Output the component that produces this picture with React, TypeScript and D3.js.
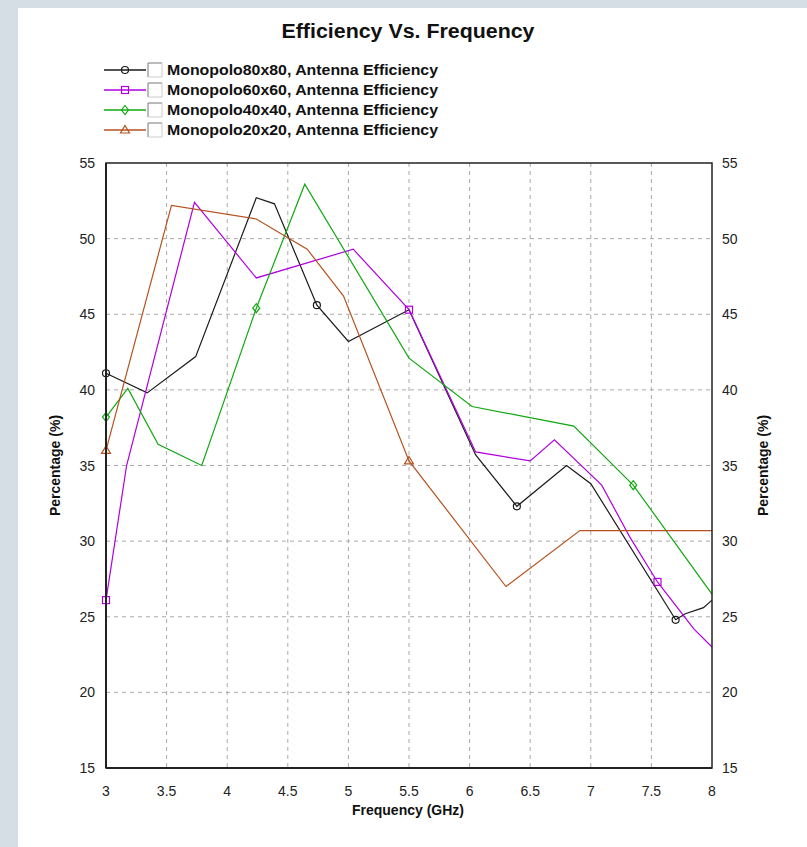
import { scaleLinear, line as d3line } from "d3";

// Frequency (GHz) / efficiency (%)
const FREQ_80 = [3.0, 3.34, 3.74, 4.24, 4.39, 4.74, 5.0, 5.5, 6.05, 6.39, 6.8, 7.0, 7.7, 7.78, 7.93, 8.0];
const EFF_80 = [41.1, 39.8, 42.2, 52.7, 52.3, 45.6, 43.2, 45.3, 35.7, 32.3, 35.0, 33.8, 24.8, 25.2, 25.6, 26.1];
const MARK_80 = [0, 5, 9, 12];

const FREQ_60 = [3.0, 3.17, 3.73, 4.24, 5.04, 5.5, 6.05, 6.5, 6.7, 7.09, 7.32, 7.55, 7.85, 8.0];
const EFF_60 = [26.1, 35.0, 52.4, 47.4, 49.3, 45.3, 35.9, 35.3, 36.7, 33.7, 30.3, 27.3, 24.2, 23.0];
const MARK_60 = [0, 5, 11];

const FREQ_40 = [3.0, 3.18, 3.43, 3.79, 4.24, 4.64, 5.5, 6.02, 6.86, 7.35, 8.0];
const EFF_40 = [38.2, 40.1, 36.4, 35.0, 45.4, 53.6, 42.1, 38.9, 37.6, 33.7, 26.5];
const MARK_40 = [0, 4, 9];

const FREQ_20 = [3.0, 3.54, 4.24, 4.66, 4.96, 5.5, 6.3, 6.91, 8.0];
const EFF_20 = [36.0, 52.2, 51.3, 49.3, 46.2, 35.3, 27.0, 30.7, 30.7];
const MARK_20 = [0, 5];

const X_TICKS = [3, 3.5, 4, 4.5, 5, 5.5, 6, 6.5, 7, 7.5, 8];
const Y_TICKS = [15, 20, 25, 30, 35, 40, 45, 50, 55];

const SERIES = [
  { name: "Monopolo80x80, Antenna Efficiency", f: FREQ_80, v: EFF_80, marks: MARK_80, color: "#1a1a1a", shape: "circle" },
  { name: "Monopolo60x60, Antenna Efficiency", f: FREQ_60, v: EFF_60, marks: MARK_60, color: "#b000e0", shape: "square" },
  { name: "Monopolo40x40, Antenna Efficiency", f: FREQ_40, v: EFF_40, marks: MARK_40, color: "#10a810", shape: "diamond" },
  { name: "Monopolo20x20, Antenna Efficiency", f: FREQ_20, v: EFF_20, marks: MARK_20, color: "#b5521f", shape: "triangle" },
];

const FONT = "'Liberation Sans', Arial, sans-serif";
const W = 807, H = 847;
const P = { left: 106, right: 712, top: 163, bottom: 768 };

function Marker({ x, y, shape, color }: { x: number; y: number; shape: string; color: string }) {
  const common = { fill: "none", stroke: color, strokeWidth: 1.2 };
  if (shape === "square") return <rect x={x - 3.5} y={y - 3.5} width={7} height={7} {...common} />;
  if (shape === "diamond") return <path d={`M${x},${y - 4.5}L${x + 3.5},${y}L${x},${y + 4.5}L${x - 3.5},${y}Z`} {...common} />;
  if (shape === "triangle") return <path d={`M${x},${y - 4.5}L${x + 4.5},${y + 3}L${x - 4.5},${y + 3}Z`} {...common} />;
  return <circle cx={x} cy={y} r={3.5} {...common} />;
}

export default function App() {
  const x = scaleLinear().domain([3, 8]).range([P.left, P.right]);
  const y = scaleLinear().domain([15, 55]).range([P.bottom, P.top]);
  const midY = (P.top + P.bottom) / 2;
  return (
    <div style={{ position: "fixed", left: 0, top: 0 }}>
      <svg width={W} height={H} style={{ display: "block" }} fontFamily={FONT}>
        <rect width={W} height={H} fill="#d5dde5" />
        <rect x={18} y={8} width={W - 18} height={H - 8} fill="#fff" />
        <text x={408} y={38} textAnchor="middle" fontSize={20} fontWeight="bold" fill="#111" textLength={253} lengthAdjust="spacingAndGlyphs">Efficiency Vs. Frequency</text>

        {SERIES.map((s, i) => {
          const cy = 70 + i * 20;
          return (
            <g key={s.name}>
              <line x1={104} x2={146} y1={cy} y2={cy} stroke={s.color} strokeWidth={1.5} />
              <Marker x={125} y={cy} shape={s.shape} color={s.color} />
              <rect x={148} y={cy - 7} width={14} height={14} fill="#fff" />
              <path d={`M148,${cy + 7}V${cy - 7}H162`} fill="none" stroke="#777" strokeWidth={1} />
              <path d={`M148,${cy + 7}H162V${cy - 7}`} fill="none" stroke="#ccc" strokeWidth={1} />
              <text x={167} y={cy + 5} fontSize={14} fontWeight="bold" fill="#111" textLength={271} lengthAdjust="spacingAndGlyphs">{s.name}</text>
            </g>
          );
        })}

        {X_TICKS.slice(1, -1).map(t => (
          <line key={"gx" + t} x1={x(t)} x2={x(t)} y1={P.top} y2={P.bottom} stroke="#aaa" strokeDasharray="4,4" />
        ))}
        {Y_TICKS.slice(1, -1).map(t => (
          <line key={"gy" + t} x1={P.left} x2={P.right} y1={y(t)} y2={y(t)} stroke="#aaa" strokeDasharray="4,4" />
        ))}

        {SERIES.map(s => {
          const pts = s.f.map((f, i) => [x(f), y(s.v[i])] as [number, number]);
          return (
            <g key={"s" + s.name}>
              <path d={d3line()(pts) ?? ""} fill="none" stroke={s.color} strokeWidth={1.2} />
              {s.marks.map(m => <Marker key={m} x={pts[m][0]} y={pts[m][1]} shape={s.shape} color={s.color} />)}
            </g>
          );
        })}

        <rect x={P.left} y={P.top} width={P.right - P.left} height={P.bottom - P.top} fill="none" stroke="#222" strokeWidth={1.5} />
        <line x1={P.left} x2={P.left} y1={P.top} y2={P.bottom} stroke="#222" strokeWidth={2} />
        <line x1={P.left} x2={P.right} y1={P.bottom} y2={P.bottom} stroke="#222" strokeWidth={2} />

        {Y_TICKS.map(t => (
          <g key={"yl" + t} fontSize={14} fill="#222">
            <text x={95} y={y(t) + 5} textAnchor="end">{t}</text>
            <text x={722} y={y(t) + 5}>{t}</text>
          </g>
        ))}
        {X_TICKS.map(t => (
          <text key={"xl" + t} x={x(t)} y={796} textAnchor="middle" fontSize={14} fill="#222">{t}</text>
        ))}
        <text x={408} y={815} textAnchor="middle" fontSize={14} fontWeight="bold" fill="#111">Frequency (GHz)</text>
        <text transform={`translate(60,${midY}) rotate(-90)`} textAnchor="middle" fontSize={14} fontWeight="bold" fill="#111">Percentage (%)</text>
        <text transform={`translate(768,${midY}) rotate(-90)`} textAnchor="middle" fontSize={14} fontWeight="bold" fill="#111">Percentage (%)</text>
      </svg>
    </div>
  );
}
